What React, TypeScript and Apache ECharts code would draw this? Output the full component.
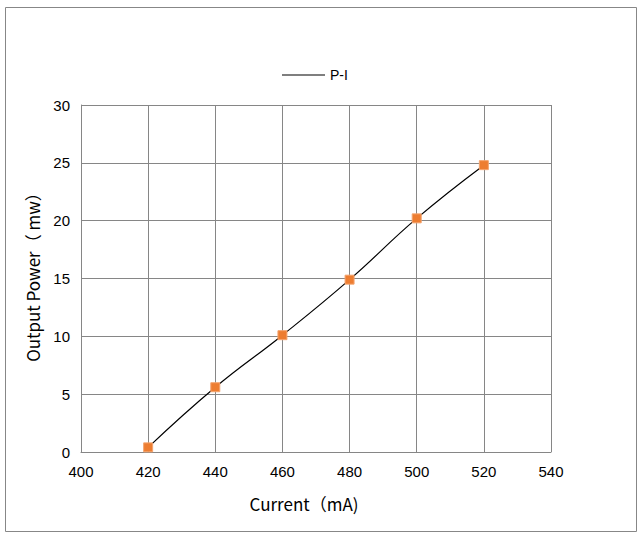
import React, { useEffect, useRef } from "react";
import * as echarts from "echarts";

const currents = [420, 440, 460, 480, 500, 520];
const powers = [0.4, 5.6, 10.1, 14.9, 20.2, 24.8];
const seriesName = "P-I";
const xTitle = "Current（mA)";
const yTitle = "Output Power（ mw）";

export default function App() {
  const ref = useRef<HTMLDivElement>(null);
  useEffect(() => {
    document.body.style.margin = "0";
    const chart = echarts.init(ref.current!, null, { renderer: "svg" });
    const font = "'Liberation Sans', Arial, sans-serif";
    const titleFont = "'Noto Sans CJK SC', 'Liberation Sans', sans-serif";
    chart.setOption({
      animation: false,
      backgroundColor: "#ffffff",
      textStyle: { fontFamily: font },
      graphic: [
        {
          type: "rect",
          shape: { x: 5.5, y: 7.5, width: 631, height: 524 },
          style: { fill: "none", stroke: "#878787", lineWidth: 1 },
          silent: true,
        },
        {
          type: "text",
          x: 304,
          y: 503,
          style: {
            text: xTitle,
            font: `normal 17px ${titleFont}`,
            fill: "#000",
            align: "center",
            verticalAlign: "middle",
          },
        },
        {
          type: "text",
          x: 32,
          y: 273,
          rotation: Math.PI / 2,
          style: {
            text: yTitle,
            font: `normal 17px ${titleFont}`,
            fill: "#000",
            align: "center",
            verticalAlign: "middle",
          },
        },
      ],
      legend: {
        top: 63,
        left: 277,
        icon: "rect",
        itemWidth: 43,
        itemHeight: 1.2,
        itemGap: 6,
        itemStyle: { color: "#000", borderWidth: 0 },
        textStyle: { fontSize: 14, color: "#000", fontFamily: font },
        data: [{ name: seriesName, itemStyle: { color: "#000" } }],
      },
      grid: { left: 81, top: 105, width: 470, height: 347, containLabel: false },
      xAxis: {
        type: "value",
        min: 400,
        max: 540,
        interval: 20,
        axisLine: { show: true, lineStyle: { color: "#868686", width: 1 } },
        axisTick: { show: false },
        axisLabel: { color: "#000", fontSize: 15, margin: 12, fontFamily: font },
        splitLine: { show: true, lineStyle: { color: "#868686", width: 1 } },
      },
      yAxis: {
        type: "value",
        min: 0,
        max: 30,
        interval: 5,
        axisLine: { show: true, lineStyle: { color: "#868686", width: 1 } },
        axisTick: { show: false },
        axisLabel: { color: "#000", fontSize: 15, margin: 11, fontFamily: font },
        splitLine: { show: true, lineStyle: { color: "#868686", width: 1 } },
      },
      series: [
        {
          name: seriesName,
          type: "line",
          smooth: 0.45,
          data: currents.map((c, i) => [c, powers[i]]),
          lineStyle: { color: "#000", width: 1.2 },
          symbol: "rect",
          symbolSize: 9,
          itemStyle: { color: "#ED7D31", borderColor: "#F4A46E", borderWidth: 1 },
        },
      ],
    });
    return () => chart.dispose();
  }, []);
  return <div ref={ref} style={{ width: 643, height: 535 }} />;
}
